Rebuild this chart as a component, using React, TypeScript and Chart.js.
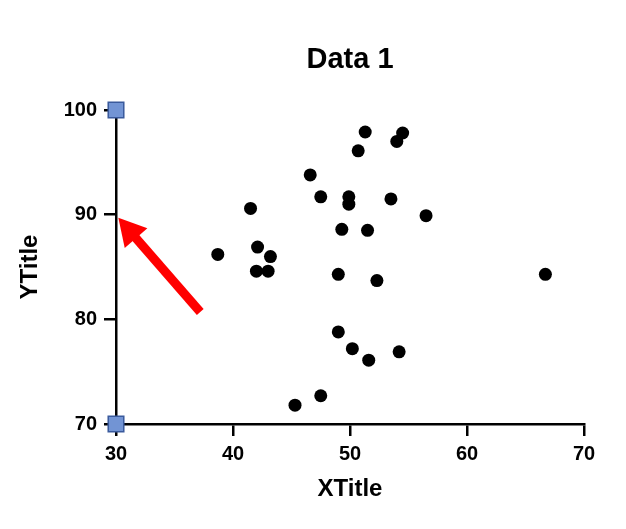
import React, { useEffect, useRef } from 'react';
import { Chart, registerables } from 'chart.js';

Chart.register(...registerables);

const chartTitle = 'Data 1';
const xTitle = 'XTitle';
const yTitle = 'YTitle';

const xValues = [38.7, 41.5, 42.1, 42.0, 43.0, 43.2, 45.3, 46.6, 47.5, 47.5, 49.0, 49.0, 49.3, 49.9, 49.9, 50.2, 50.7, 51.3, 51.5, 51.6, 52.3, 53.5, 54.0, 54.5, 54.2, 56.5, 66.7];
const yValues = [86.2, 90.6, 86.9, 84.6, 84.6, 86.0, 71.8, 93.8, 91.7, 72.7, 84.3, 78.8, 88.6, 91.7, 91.0, 77.2, 96.1, 97.9, 88.5, 76.1, 83.7, 91.5, 97.0, 97.8, 76.9, 89.9, 84.3];

const markerX = [30, 30];
const markerY = [100, 70];

const xTicks = [30, 40, 50, 60, 70];
const yTicks = [70, 80, 90, 100];

const arrowFrom = [37.2, 80.7];
const arrowTo = [30.2, 89.7];

const FONT = '"Liberation Sans", Arial, Helvetica, sans-serif';

export default function App() {
  const ref = useRef<HTMLCanvasElement | null>(null);

  useEffect(() => {
    const canvas = ref.current;
    if (!canvas) return;

    const overlay = {
      id: 'overlay',
      afterDatasetsDraw(chart: any) {
        const ctx = chart.ctx;
        const xs = chart.scales.x;
        const ys = chart.scales.y;
        const tx = xs.getPixelForValue(arrowTo[0]);
        const ty = ys.getPixelForValue(arrowTo[1]);
        const fx = xs.getPixelForValue(arrowFrom[0]);
        const fy = ys.getPixelForValue(arrowFrom[1]);
        const dx = tx - fx;
        const dy = ty - fy;
        const len = Math.sqrt(dx * dx + dy * dy);
        const ux = dx / len;
        const uy = dy / len;
        const headLen = 27;
        const headHalf = 15;
        const bx = tx - ux * headLen;
        const by = ty - uy * headLen;
        ctx.save();
        ctx.strokeStyle = '#ff0000';
        ctx.fillStyle = '#ff0000';
        ctx.lineWidth = 9;
        ctx.lineCap = 'butt';
        ctx.beginPath();
        ctx.moveTo(fx, fy);
        ctx.lineTo(bx + ux * 2, by + uy * 2);
        ctx.stroke();
        ctx.beginPath();
        ctx.moveTo(tx, ty);
        ctx.lineTo(bx - uy * headHalf, by + ux * headHalf);
        ctx.lineTo(bx + uy * headHalf, by - ux * headHalf);
        ctx.closePath();
        ctx.fill();
        ctx.restore();
      },
      afterDraw(chart: any) {
        const ctx = chart.ctx;
        const area = chart.chartArea;
        ctx.save();
        ctx.fillStyle = '#000';
        ctx.font = `bold 29px ${FONT}`;
        ctx.textAlign = 'center';
        ctx.textBaseline = 'middle';
        ctx.fillText(chartTitle, (area.left + area.right) / 2, 60);
        ctx.restore();
      },
    };

    const chart = new Chart(canvas, {
      type: 'scatter',
      data: {
        datasets: [
          {
            label: 'Markers',
            data: markerX.map((x, i) => ({ x, y: markerY[i] })),
            pointStyle: 'rect',
            pointRadius: 11,
            backgroundColor: '#7294d4',
            borderColor: '#3a5a9c',
            borderWidth: 1.5,
            clip: false,
            order: 0,
          },
          {
            label: chartTitle,
            data: xValues.map((x, i) => ({ x, y: yValues[i] })),
            pointStyle: 'circle',
            pointRadius: 6.5,
            backgroundColor: '#000',
            borderColor: '#000',
            borderWidth: 0,
            clip: false,
            order: 1,
          },
        ],
      },
      options: {
        responsive: false,
        animation: false,
        layout: { padding: { top: 110, right: 42, bottom: 0, left: 0 } },
        plugins: {
          legend: { display: false },
          title: { display: false },
          tooltip: { enabled: false },
        },
        scales: {
          x: {
            type: 'linear',
            min: 30,
            max: 70,
            afterFit(scale: any) {
              scale.height = 105;
            },
            afterBuildTicks(scale: any) {
              scale.ticks = xTicks.map((v) => ({ value: v }));
            },
            ticks: {
              color: '#000',
              font: { family: FONT, size: 20, weight: 'bold' },
              padding: 6,
              maxRotation: 0,
            },
            grid: {
              drawOnChartArea: false,
              drawTicks: true,
              tickLength: 12,
              color: '#000',
              lineWidth: 2.5,
            },
            border: { display: true, color: '#000', width: 2.5 },
            title: {
              display: true,
              text: xTitle,
              color: '#000',
              font: { family: FONT, size: 24, weight: 'bold' },
              padding: { top: 0, bottom: 25 },
            },
          },
          y: {
            type: 'linear',
            min: 70,
            max: 100,
            afterFit(scale: any) {
              scale.width = 116;
            },
            afterBuildTicks(scale: any) {
              scale.ticks = yTicks.map((v) => ({ value: v }));
            },
            ticks: {
              color: '#000',
              font: { family: FONT, size: 20, weight: 'bold' },
              padding: 7,
            },
            grid: {
              drawOnChartArea: false,
              drawTicks: true,
              tickLength: 12,
              color: '#000',
              lineWidth: 2.5,
            },
            border: { display: true, color: '#000', width: 2.5 },
            title: {
              display: true,
              text: yTitle,
              color: '#000',
              font: { family: FONT, size: 24, weight: 'bold' },
              padding: { top: 16, bottom: 0 },
            },
          },
        },
      },
      plugins: [overlay],
    });

    return () => chart.destroy();
  }, []);

  return (
    <div style={{ position: 'absolute', left: 0, top: 0, width: 626, height: 529, background: '#fff' }}>
      <canvas ref={ref} width={626} height={529} />
    </div>
  );
}
